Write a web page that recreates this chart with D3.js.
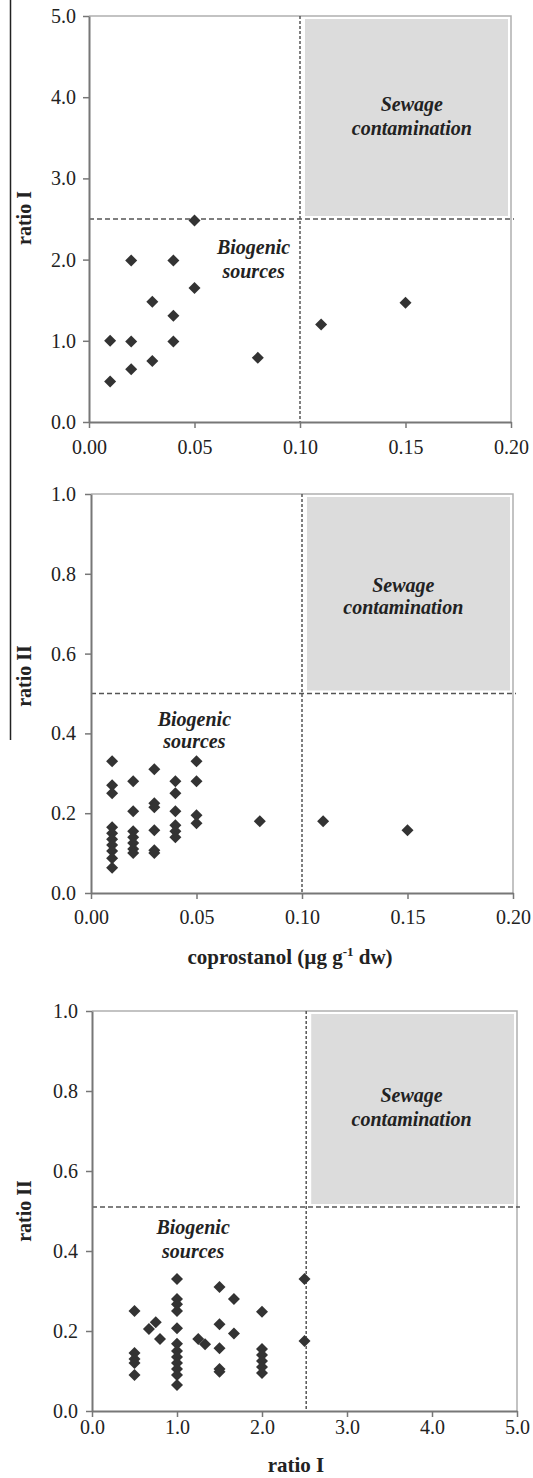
<!DOCTYPE html>
<html>
<head>
<meta charset="utf-8">
<script src="https://cdn.jsdelivr.net/npm/d3@7"></script>
<style>
  body { margin: 0; background: #fff; }
  svg text { font-family: "Liberation Serif", "Times New Roman", serif; fill: #222; }
</style>
</head>
<body>
<svg id="chart" width="533" height="1478"></svg>
<script>
// Top panel: coprostanol (x) against ratio I (y).
const copro1 = [0.01, 0.01, 0.02, 0.02, 0.02, 0.03, 0.03, 0.04, 0.04, 0.04, 0.05, 0.05, 0.08, 0.11, 0.15];
const ratioI1 = [1.0, 0.5, 1.99, 0.99, 0.65, 1.48, 0.75, 1.99, 1.31, 0.99, 2.48, 1.65, 0.79, 1.2, 1.47];

// Middle panel: coprostanol (x) against ratio II (y).
const copro2 = [0.01, 0.01, 0.01, 0.01, 0.01, 0.01, 0.01, 0.01, 0.01, 0.01,
                0.02, 0.02, 0.02, 0.02, 0.02, 0.02, 0.02,
                0.03, 0.03, 0.03, 0.03, 0.03, 0.03,
                0.04, 0.04, 0.04, 0.04, 0.04, 0.04,
                0.05, 0.05, 0.05, 0.05,
                0.08, 0.11, 0.15];
const ratioII2 = [0.33, 0.27, 0.25, 0.165, 0.15, 0.135, 0.12, 0.105, 0.087, 0.063,
                  0.28, 0.205, 0.155, 0.14, 0.125, 0.11, 0.10,
                  0.31, 0.225, 0.215, 0.157, 0.107, 0.10,
                  0.28, 0.25, 0.205, 0.17, 0.155, 0.14,
                  0.33, 0.28, 0.195, 0.175,
                  0.18, 0.18, 0.157];

// Bottom panel: ratio I (x) against ratio II (y).
const ratioI3 = [0.5, 0.5, 0.5, 0.5, 0.5,
                 0.67, 0.75, 0.8,
                 1.0, 1.0, 1.0, 1.0, 1.0, 1.0, 1.0, 1.0, 1.0, 1.0, 1.0, 1.0,
                 1.25, 1.33,
                 1.5, 1.5, 1.5, 1.5, 1.5,
                 1.67, 1.67,
                 2.0, 2.0, 2.0, 2.0, 2.0, 2.0,
                 2.5, 2.5];
const ratioII3 = [0.25, 0.145, 0.13, 0.12, 0.09,
                  0.205, 0.222, 0.18,
                  0.33, 0.28, 0.267, 0.25, 0.207, 0.168, 0.15, 0.135, 0.12, 0.105, 0.09, 0.065,
                  0.18, 0.167,
                  0.31, 0.217, 0.157, 0.105, 0.098,
                  0.28, 0.194,
                  0.248, 0.155, 0.14, 0.125, 0.11, 0.095,
                  0.33, 0.175];

// Tick values.
const coproTicks = [0, 0.05, 0.10, 0.15, 0.20];
const ratioITicks = [0, 1, 2, 3, 4, 5];
const ratioIITicks = [0, 0.2, 0.4, 0.6, 0.8, 1.0];

// Thresholds splitting "biogenic" from "sewage".
const coproCut = 0.1;
const ratioICut = 2.5;
const ratioIICut = 0.5;

const svg = d3.select("#chart");

// Layout for each of the three panels.
const panels = [
    { xs: copro1, ys: ratioI1, xDomain: [0, 0.2], yDomain: [0, 5],
      xTicks: coproTicks, yTicks: ratioITicks, xFmt: ".2f", yFmt: ".1f",
      xCut: coproCut, yCut: ratioICut,
      left: 89, right: 511, top: 16, bottom: 422, xPad: 12, yPad: 7,
      sewage: [0.153, 3.83], biogenic: [0.078, 2.07], lineGap: 24 },
    { xs: copro2, ys: ratioII2, xDomain: [0, 0.2], yDomain: [0, 1],
      xTicks: coproTicks, yTicks: ratioIITicks, xFmt: ".2f", yFmt: ".1f",
      xCut: coproCut, yCut: ratioIICut,
      left: 91, right: 513, top: 494, bottom: 893, xPad: 11, yPad: 9,
      sewage: [0.148, 0.754], biogenic: [0.049, 0.419], lineGap: 22 },
    { xs: ratioI3, ys: ratioII3, xDomain: [0, 5], yDomain: [0, 1],
      xTicks: ratioITicks, yTicks: ratioIITicks, xFmt: ".1f", yFmt: ".1f",
      xCut: ratioICut + 0.02, yCut: ratioIICut + 0.01,
      left: 92, right: 517, top: 1011, bottom: 1411, xPad: 3, yPad: 8,
      sewage: [3.76, 0.773], biogenic: [1.19, 0.443], lineGap: 24 }
];

function drawPanel (p) {
    const x = d3.scaleLinear().domain(p.xDomain).range([p.left, p.right]);
    const y = d3.scaleLinear().domain(p.yDomain).range([p.bottom, p.top]);
    const g = svg.append("g");

    // Grey "sewage" quadrant.
    const rx = x(p.xCut) + 5, ry = p.top + 3;
    g.append("rect")
        .attr("x", rx).attr("y", ry)
        .attr("width", p.right - 3 - rx).attr("height", y(p.yCut) - 3 - ry)
        .attr("fill", "#dcdcdc");

    // Light top/right border.
    g.append("path")
        .attr("d", `M${p.left},${p.top}H${p.right}V${p.bottom}`)
        .attr("fill", "none").attr("stroke", "#b0b0b0").attr("stroke-width", 1.5);

    // Threshold lines.
    g.append("line")
        .attr("x1", p.left).attr("x2", p.right + 3)
        .attr("y1", y(p.yCut)).attr("y2", y(p.yCut))
        .attr("stroke", "#555").attr("stroke-width", 1.5).attr("stroke-dasharray", "5,3");
    g.append("line")
        .attr("x1", x(p.xCut)).attr("x2", x(p.xCut))
        .attr("y1", p.top).attr("y2", p.bottom)
        .attr("stroke", "#555").attr("stroke-width", 1.5).attr("stroke-dasharray", "3,2");

    // Axes.
    const xAxis = g.append("g")
        .attr("transform", `translate(0,${p.bottom})`)
        .call(d3.axisBottom(x).tickValues(p.xTicks).tickFormat(d3.format(p.xFmt))
            .tickSize(6).tickSizeOuter(0).tickPadding(p.xPad));
    const yAxis = g.append("g")
        .attr("transform", `translate(${p.left},0)`)
        .call(d3.axisLeft(y).tickValues(p.yTicks).tickFormat(d3.format(p.yFmt))
            .tickSize(6).tickSizeOuter(0).tickPadding(p.yPad));
    [xAxis, yAxis].forEach(a => {
        a.select(".domain").attr("stroke", "#777").attr("stroke-width", 2);
        a.selectAll(".tick line").attr("stroke", "#777").attr("stroke-width", 1.5);
        a.selectAll(".tick text").attr("font-size", 20).attr("fill", "#222")
            .style("font-family", "'Liberation Serif', serif");
    });

    // Diamond markers.
    g.selectAll("path.pt")
        .data(d3.zip(p.xs, p.ys))
        .join("path")
        .attr("class", "pt")
        .attr("d", d3.symbol(d3.symbolSquare, 72))
        .attr("transform", d => `translate(${x(d[0])},${y(d[1])}) rotate(45)`)
        .attr("fill", "#333");

    // Region labels.
    const lbl = (pos, lines) => {
        const t = g.append("text")
            .attr("text-anchor", "middle")
            .attr("font-size", 20).attr("font-weight", "bold").attr("font-style", "italic");
        lines.forEach((s, i) => {
            t.append("tspan").attr("x", x(pos[0])).attr("y", y(pos[1]) + i * p.lineGap).text(s);
        });
    };
    lbl(p.sewage, ["Sewage", "contamination"]);
    lbl(p.biogenic, ["Biogenic", "sources"]);
}

panels.forEach(drawPanel);

// Axis titles.
function yTitle (label, cy) {
    svg.append("text")
        .attr("transform", `translate(31,${cy}) rotate(-90)`)
        .attr("text-anchor", "middle").attr("font-size", 20).attr("font-weight", "bold")
        .text(label);
}
yTitle("ratio I", 218);
yTitle("ratio II", 676);
yTitle("ratio II", 1211);

const cop = svg.append("text")
    .attr("x", 290).attr("y", 964)
    .attr("text-anchor", "middle").attr("font-size", 21).attr("font-weight", "bold");
cop.append("tspan").text("coprostanol (µg g");
cop.append("tspan").attr("font-size", 13).attr("dy", -8).text("-1");
cop.append("tspan").attr("dy", 8).text(" dw)");

svg.append("text")
    .attr("x", 296).attr("y", 1472)
    .attr("text-anchor", "middle").attr("font-size", 21).attr("font-weight", "bold")
    .text("ratio I");

// Thin rule along the left edge of the two upper panels.
svg.append("line")
    .attr("x1", 10.5).attr("x2", 10.5).attr("y1", 0).attr("y2", 740)
    .attr("stroke", "#222").attr("stroke-width", 1.5);
</script>
</body>
</html>
